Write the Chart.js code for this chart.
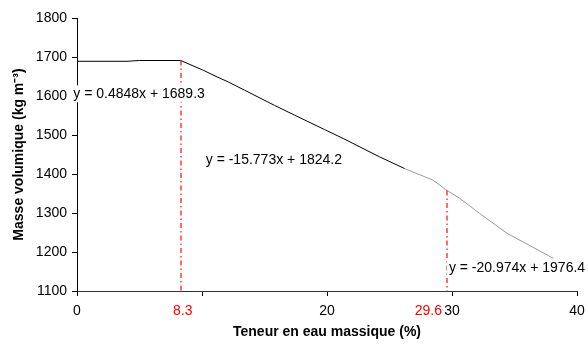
<!DOCTYPE html>
<html>
<head>
<meta charset="utf-8">
<script src="https://cdn.jsdelivr.net/npm/chart.js@4"></script>
<style>
  html, body { margin: 0; padding: 0; background: #fff; }
  #wrap { width: 588px; height: 346px; }
</style>
</head>
<body>
<div id="wrap"><canvas id="c" width="588" height="346"></canvas></div>
<script>
// ---- data ----
const blackX = [0, 4, 5, 8.3, 10.1, 11.2, 12.1, 13.4, 15.8, 17.4, 19.8, 21.3, 24.2, 26.2];
const blackY = [1689, 1689, 1691, 1691, 1666, 1649, 1636, 1615, 1576, 1551, 1514, 1491, 1444, 1414];
const grayX = [26.2, 28.5, 29.5, 30.6, 32.2, 34.4, 38.1];
const grayY = [1414, 1384, 1360, 1338, 1299, 1248, 1184];

const breakX = [8.3, 29.6];          // red dash-dot break points
const breakY = [1691, 1358];         // curve value at each break
const breakLabels = ['8.3', '29.6'];

const equations = ['y = 0.4848x + 1689.3', 'y = -15.773x + 1824.2', 'y = -20.974x + 1976.4'];
const eqAnchorX = [-0.3, 10.3, 29.75];  // left edge of each label (x data units)
const eqAnchorY = [1607, 1436, 1159];   // vertical centre (y data units)

const xTickValues = [0, 10, 20, 30, 40];
const xTickLabels = ['0', '', '20', '30', '40'];
const yTickValues = [1100, 1200, 1300, 1400, 1500, 1600, 1700, 1800];

const xTitle = 'Teneur en eau massique (%)';
const yTitle = 'Masse volumique (kg m\u207B\u00B3)';

const FONT = "'Liberation Sans', Arial, sans-serif";
const FS = 14;

const pts = (xs, ys) => xs.map((x, i) => ({x: x, y: ys[i]}));

const overlay = {
  id: 'overlay',
  afterDatasetsDraw(chart) {
    const ctx = chart.ctx;
    const xs = chart.scales.x, ys = chart.scales.y;
    ctx.save();
    // red dash-dot verticals
    ctx.strokeStyle = 'rgb(255,0,0)';
    ctx.lineWidth = 1.15;
    ctx.setLineDash([5, 3, 1.5, 3]);
    breakX.forEach((bx, i) => {
      const px = Math.round(xs.getPixelForValue(bx));
      ctx.beginPath();
      ctx.moveTo(px, ys.getPixelForValue(breakY[i]));
      ctx.lineTo(px, ys.bottom);
      ctx.stroke();
    });
    ctx.setLineDash([]);
    // equation labels with white boxes
    ctx.font = FS + 'px ' + FONT;
    ctx.textBaseline = 'middle';
    ctx.textAlign = 'left';
    equations.forEach((t, i) => {
      const px = xs.getPixelForValue(eqAnchorX[i]);
      const py = ys.getPixelForValue(eqAnchorY[i]);
      const w = ctx.measureText(t).width;
      ctx.fillStyle = '#fff';
      ctx.fillRect(px - 2, py - 8, w + 4, 17);
      ctx.fillStyle = '#000';
      ctx.fillText(t, px, py + 0.5);
    });
    ctx.restore();
  },
  afterDraw(chart) {
    const ctx = chart.ctx;
    const xs = chart.scales.x;
    ctx.save();
    ctx.font = FS + 'px ' + FONT;
    ctx.fillStyle = '#ff0000';
    ctx.textBaseline = 'top';
    breakX.forEach((bx, i) => {
      const px = xs.getPixelForValue(bx);
      if (i === 0) { ctx.textAlign = 'center'; ctx.fillText(breakLabels[i], px + 2, xs.top + 13); }
      else { ctx.textAlign = 'right'; ctx.fillText(breakLabels[i], px - 5, xs.top + 13); }
    });
    ctx.restore();
  }
};

new Chart(document.getElementById('c'), {
  type: 'line',
  data: {
    datasets: [
      { data: pts(blackX, blackY), borderColor: '#000', borderWidth: 1, pointRadius: 0, tension: 0, fill: false },
      { data: pts(grayX, grayY), borderColor: '#999', borderWidth: 1, pointRadius: 0, tension: 0, fill: false }
    ]
  },
  options: {
    responsive: false,
    animation: false,
    events: [],
    layout: { padding: { top: 18, right: 0, left: 0, bottom: 0 } },
    plugins: { legend: { display: false }, tooltip: { enabled: false } },
    scales: {
      x: {
        type: 'linear', min: 0, max: 40,
        afterBuildTicks: s => { s.ticks = xTickValues.map(v => ({value: v})); },
        afterFit: s => { s.height = 55; s.paddingRight = 11; s.paddingLeft = 0; },
        ticks: {
          autoSkip: false, maxRotation: 0, padding: 7, color: '#000',
          font: { family: FONT, size: FS },
          callback: (v) => { const i = xTickValues.indexOf(v); return i >= 0 ? xTickLabels[i] : ''; }
        },
        grid: { drawOnChartArea: false, tickLength: 5, color: '#000' },
        border: { color: '#333', width: 1 },
        title: { display: true, text: xTitle, color: '#000', padding: { top: 0, bottom: 5 },
                 font: { family: FONT, size: FS, weight: 'bold' } }
      },
      y: {
        type: 'linear', min: 1100, max: 1800,
        afterBuildTicks: s => { s.ticks = yTickValues.map(v => ({value: v})); },
        afterFit: s => { s.width = 77; },
        ticks: { padding: 5, color: '#000', font: { family: FONT, size: FS },
                 callback: (v) => String(v) },
        grid: { drawOnChartArea: false, tickLength: 5, color: '#000' },
        border: { color: '#000', width: 1 },
        title: { display: true, text: yTitle, color: '#000', padding: { top: 11, bottom: 0 },
                 font: { family: FONT, size: FS, weight: 'bold' } }
      }
    }
  },
  plugins: [overlay]
});
</script>
</body>
</html>
